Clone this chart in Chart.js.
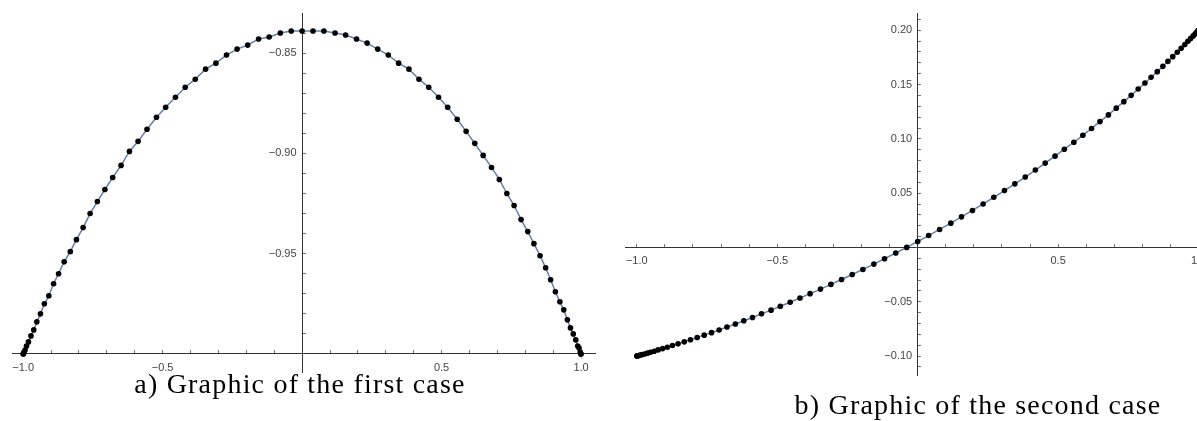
<!DOCTYPE html>
<html lang="en">
<head>
    <meta charset="UTF-8">
    <title>Graphics of the two cases</title>
    <script src="https://cdn.jsdelivr.net/npm/chart.js@4"></script>
    <style>
        html, body { margin: 0; padding: 0; background: #fff; overflow: hidden; width: 1197px; height: 421px; }
        canvas { position: absolute; top: 0; }
        #firstCase { left: 0; }
        #secondCase { left: 600px; }
        .caption { position: absolute; font-family: "Liberation Serif", "Times New Roman", serif; font-size: 28px; line-height: 28px; letter-spacing: 1.2px; color: #000; white-space: nowrap; text-align: center; }
    </style>
</head>
<body>
    <canvas id="firstCase" width="600" height="421"></canvas>
    <canvas id="secondCase" width="620" height="421"></canvas>
    <div class="caption" style="left:0; width:600px; top:370px;">a) Graphic of the first case</div>
    <div class="caption" style="left:778px; width:400px; top:391px;">b) Graphic of the second case</div>

    <script>
        // sample points (x positions of the dots, denser towards the ends)
        const xs = [
            -1.000, -0.999, -0.997, -0.993, -0.988, -0.981, -0.972, -0.962, -0.951, -0.938,
            -0.924, -0.908, -0.891, -0.873, -0.853, -0.831, -0.809, -0.785, -0.760, -0.734,
            -0.707, -0.679, -0.649, -0.619, -0.588, -0.556, -0.522, -0.489, -0.454, -0.419,
            -0.383, -0.346, -0.309, -0.271, -0.233, -0.195, -0.156, -0.118, -0.078, -0.039,
            0.000,
            0.039, 0.078, 0.118, 0.156, 0.195, 0.233, 0.271, 0.309, 0.346, 0.383,
            0.419, 0.454, 0.489, 0.522, 0.556, 0.588, 0.619, 0.649, 0.679, 0.707,
            0.734, 0.760, 0.785, 0.809, 0.831, 0.853, 0.873, 0.891, 0.908, 0.924,
            0.938, 0.951, 0.962, 0.972, 0.981, 0.988, 0.993, 0.997, 0.999, 1.000
        ];

        // a) first case
        const firstCaseY = [
            -1.000, -1.000, -0.999, -0.998, -0.996, -0.994, -0.991, -0.988, -0.984, -0.980,
            -0.975, -0.971, -0.965, -0.960, -0.954, -0.949, -0.943, -0.937, -0.930, -0.924,
            -0.918, -0.912, -0.906, -0.899, -0.894, -0.888, -0.882, -0.877, -0.872, -0.867,
            -0.863, -0.858, -0.855, -0.851, -0.848, -0.846, -0.843, -0.842, -0.840, -0.839,
            -0.839,
            -0.839, -0.839, -0.840, -0.841, -0.843, -0.845, -0.848, -0.851, -0.855, -0.858,
            -0.863, -0.867, -0.872, -0.877, -0.883, -0.889, -0.895, -0.901, -0.907, -0.913,
            -0.920, -0.926, -0.933, -0.939, -0.945, -0.951, -0.957, -0.963, -0.969, -0.974,
            -0.978, -0.983, -0.987, -0.990, -0.993, -0.996, -0.997, -0.999, -1.000, -1.000
        ];

        // b) second case
        const secondCaseY = [
            -0.1000, -0.0999, -0.0998, -0.0995, -0.0991, -0.0986, -0.0980, -0.0973, -0.0964, -0.0955,
            -0.0943, -0.0931, -0.0918, -0.0903, -0.0887, -0.0869, -0.0850, -0.0829, -0.0807, -0.0784,
            -0.0759, -0.0732, -0.0704, -0.0675, -0.0644, -0.0611, -0.0577, -0.0541, -0.0504, -0.0465,
            -0.0425, -0.0383, -0.0340, -0.0295, -0.0249, -0.0202, -0.0153, -0.0103, -0.0051, 0.0001,
            0.0055,
            0.0110, 0.0166, 0.0224, 0.0282, 0.0341, 0.0401, 0.0462, 0.0524, 0.0586, 0.0649,
            0.0713, 0.0777, 0.0841, 0.0905, 0.0969, 0.1033, 0.1096, 0.1159, 0.1221, 0.1283,
            0.1343, 0.1401, 0.1459, 0.1514, 0.1567, 0.1619, 0.1668, 0.1714, 0.1757, 0.1797,
            0.1835, 0.1868, 0.1899, 0.1925, 0.1948, 0.1967, 0.1981, 0.1992, 0.1998, 0.2000
        ];

        // ticks and tick labels
        const xTicks = [-1.0, -0.9, -0.8, -0.7, -0.6, -0.5, -0.4, -0.3, -0.2, -0.1,
                        0.1, 0.2, 0.3, 0.4, 0.5, 0.6, 0.7, 0.8, 0.9, 1.0];
        const xLabelValues = [-1.0, -0.5, 0.5, 1.0];
        const xLabelTexts = ['\u22121.0', '\u22120.5', '0.5', '1.0'];

        const firstYTicks = [-0.99, -0.98, -0.97, -0.96, -0.95, -0.94, -0.93, -0.92, -0.91, -0.90,
                             -0.89, -0.88, -0.87, -0.86, -0.85, -0.84];
        const firstYLabelValues = [-0.95, -0.90, -0.85];
        const firstYLabelTexts = ['\u22120.95', '\u22120.90', '\u22120.85'];

        const secondYTicks = [-0.11, -0.10, -0.09, -0.08, -0.07, -0.06, -0.05, -0.04, -0.03, -0.02, -0.01,
                              0.01, 0.02, 0.03, 0.04, 0.05, 0.06, 0.07, 0.08, 0.09, 0.10,
                              0.11, 0.12, 0.13, 0.14, 0.15, 0.16, 0.17, 0.18, 0.19, 0.20, 0.21];
        const secondYLabelValues = [-0.10, -0.05, 0.05, 0.10, 0.15, 0.20];
        const secondYLabelTexts = ['\u22120.10', '\u22120.05', '0.05', '0.10', '0.15', '0.20'];

        const tickFont = { family: '"Liberation Sans", Arial, sans-serif', size: 11 };

        // suffix: a y axis placed at x = 0 gets no tick padding, so keep a small gap after the text
        function axis(min, max, position, tickValues, labelValues, labelTexts, padding, suffix) {
            return {
                type: 'linear',
                min: min,
                max: max,
                position: position,
                afterBuildTicks: (scale) => {
                    scale.ticks = tickValues.map(v => ({ value: v }));
                },
                ticks: {
                    autoSkip: false,
                    maxRotation: 0,
                    padding: padding,
                    color: '#444',
                    font: tickFont,
                    callback: (value) => {
                        const i = labelValues.findIndex(l => Math.abs(l - value) < 1e-6);
                        return i < 0 ? '' : labelTexts[i] + suffix;
                    }
                },
                grid: {
                    drawOnChartArea: false,
                    drawTicks: true,
                    tickLength: -4,
                    tickColor: '#777',
                    tickWidth: 1
                },
                border: { color: '#333', width: 1 }
            };
        }

        function makeChart(id, ys, scales, padding) {
            const ctx = document.getElementById(id).getContext('2d');
            return new Chart(ctx, {
                type: 'scatter',
                data: {
                    datasets: [{
                        data: xs.map((x, i) => ({ x: x, y: ys[i] })),
                        showLine: true,
                        borderColor: '#5e81b5',
                        borderWidth: 1.5,
                        pointRadius: 2.8,
                        pointBackgroundColor: '#000',
                        pointBorderWidth: 0,
                        pointHoverRadius: 2.8,
                        clip: false
                    }]
                },
                options: {
                    responsive: false,
                    animation: false,
                    layout: { padding: padding },
                    plugins: { legend: { display: false }, tooltip: { enabled: false } },
                    scales: scales
                }
            });
        }

        makeChart('firstCase', firstCaseY, {
            x: axis(-1.04, 1.05, { y: -1 }, xTicks, xLabelValues, xLabelTexts, 11, ''),
            y: axis(-1.009, -0.83, { x: 0 }, firstYTicks, firstYLabelValues, firstYLabelTexts, 6, '\u2002')
        }, { left: 12, right: 5, top: 13, bottom: 49 });

        makeChart('secondCase', secondCaseY, {
            x: axis(-1.042, 1.03, { y: 0 }, xTicks, xLabelValues, xLabelTexts, 11, ''),
            y: axis(-0.1174, 0.2159, { x: 0 }, secondYTicks, secondYLabelValues, secondYLabelTexts, 6, '\u2002')
        }, { left: 25, right: 13, top: 13, bottom: 46 });
    </script>
</body>
</html>
